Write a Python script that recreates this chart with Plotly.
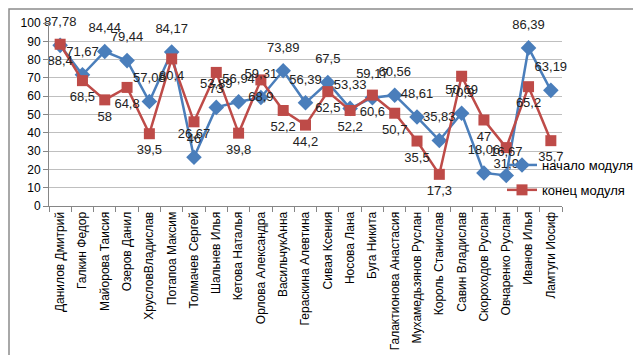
import plotly.graph_objects as go

students = ["Данилов Дмитрий", "Галкин Федор", "Майорова Таисия", "Озеров Данил",
            "ХрусловВладислав", "Потапоа Максим", "Толмачев Сергей", "Шальнев Илья",
            "Кетова Наталья", "Орлова Александра", "ВасильчукАнна", "Гераскина Алевтина",
            "Сивая Ксения", "Носова Лана", "Буга Никита", "Галактионова Анастасия",
            "Мухамедьзянов Руслан", "Король Станислав", "Савин Владислав",
            "Скороходов Руслан", "Овчаренко Руслан", "Иванов Илья", "Ламтуги Иосиф"]
start_module = [87.78, 71.67, 84.44, 79.44, 57.08, 84.17, 26.67, 53.89, 56.94, 59.31,
                73.89, 56.39, 67.5, 53.33, 59.17, 60.56, 48.61, 35.83, 50.69, 18.06,
                16.67, 86.39, 63.19]
end_module = [88.4, 68.5, 58, 64.8, 39.5, 80.4, 46, 73, 39.8, 68.9,
              52.2, 44.2, 62.5, 52.2, 60.6, 50.7, 35.5, 17.3, 70.9, 47,
              31.9, 65.2, 35.7]
y_ticks = [0, 10, 20, 30, 40, 50, 60, 70, 80, 90, 100]

def fmt(v):
    return ("%g" % v).replace(".", ",")

W, H = 641, 355
L, R, T, B = 41, 87, 15, 157
pw, ph = W - L - R, H - T - B

FONT = "Liberation Sans"
blue = "#4A7EBB"
red = "#BE4B48"

fig = go.Figure()
fig.add_trace(go.Scatter(
    x=students, y=start_module, name="начало модуля", mode="lines+markers",
    legendgroup="a",
    line=dict(color=blue, width=2.5),
    marker=dict(symbol="diamond", size=12, color=blue),
))
fig.add_trace(go.Scatter(
    x=students, y=end_module, name="конец модуля", mode="lines+markers",
    legendgroup="b",
    line=dict(color=red, width=2.5),
    marker=dict(symbol="square", size=11, color=red),
))
# data labels (invisible larger markers push labels away from the points)
fig.add_trace(go.Scatter(
    x=students, y=start_module, mode="markers+text", showlegend=False, hoverinfo="skip",
    marker=dict(size=24, opacity=0),
    text=[fmt(v) for v in start_module], textposition="top center",
    textfont=dict(family=FONT, size=13, color="#222222"),
    cliponaxis=False,
))
fig.add_trace(go.Scatter(
    x=students, y=end_module, mode="markers+text", showlegend=False, hoverinfo="skip",
    marker=dict(size=16, opacity=0),
    text=[fmt(v) for v in end_module], textposition="bottom center",
    textfont=dict(family=FONT, size=13, color="#222222"),
    cliponaxis=False,
))

fig.update_layout(
    width=W, height=H,
    margin=dict(l=L, r=R, t=T, b=B, autoexpand=False),
    paper_bgcolor="white", plot_bgcolor="white",
    font=dict(family=FONT, size=12, color="#000000"),
    showlegend=True,
    legend=dict(x=(494 - L) / pw, y=(198 - 142) / ph, xanchor="left", yanchor="top",
                font=dict(family=FONT, size=13, color="#000000"),
                bgcolor="rgba(0,0,0,0)", itemwidth=30, tracegroupgap=5,
                traceorder="grouped"),
    xaxis=dict(type="category", tickangle=-90, showgrid=False,
               showline=True, linecolor="#868686", linewidth=1,
               ticks="outside", tickson="boundaries", ticklen=5, tickcolor="#868686",
               tickfont=dict(family=FONT, size=12), range=[-0.5, len(students) - 0.5]),
    yaxis=dict(range=[0, 100], tickvals=y_ticks, showgrid=True, gridcolor="#BFBFBF",
               gridwidth=1, showline=True, linecolor="#868686", linewidth=1,
               ticks="outside", ticklen=5, tickcolor="#868686",
               tickfont=dict(family=FONT, size=12), zeroline=False),
)

# outer frame of the chart area
fig.add_shape(type="rect", xref="paper", yref="paper",
              x0=(1 - L) / pw, x1=(637 - L) / pw,
              y0=-(349 - T - ph) / ph, y1=1 + (T - 1) / ph,
              line=dict(color="#8C8C8C", width=1.5), layer="below")

fig.write_html("out.html")
